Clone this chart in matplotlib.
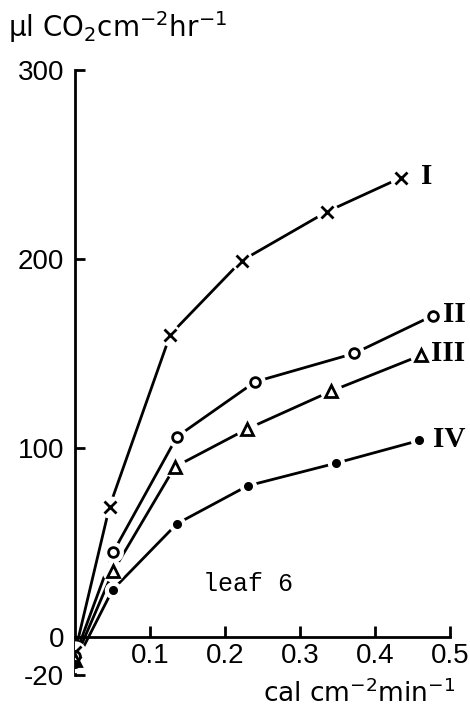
import matplotlib
matplotlib.use("Agg")
import matplotlib.pyplot as plt

plt.rcParams['font.family'] = ['Liberation Sans', 'DejaVu Sans']
plt.rcParams['mathtext.default'] = 'regular'

# light intensity (cal cm-2 min-1) vs CO2 uptake (ul CO2 cm-2 hr-1)
x_I = [0.0, 0.046, 0.127, 0.222, 0.336, 0.435]
y_I = [-8, 69, 160, 199, 225, 243]
x_II = [0.0, 0.051, 0.136, 0.240, 0.372, 0.477]
y_II = [-10, 45, 106, 135, 150, 170]
x_III = [0.0, 0.051, 0.133, 0.229, 0.341, 0.461]
y_III = [-12, 35, 90, 110, 130, 149]
x_IV = [0.0, 0.050, 0.136, 0.230, 0.348, 0.459]
y_IV = [-14, 25, 60, 80, 92, 104]

curve_names = ['I', 'II', 'III', 'IV']
x_ticks = [0.1, 0.2, 0.3, 0.4, 0.5]
y_ticks = [-20, 0, 100, 200, 300]

curves = [(x_I, y_I, 'x', 'k'), (x_II, y_II, 'o', 'white'),
          (x_III, y_III, '^', 'white'), (x_IV, y_IV, 'o', 'k')]
msizes = [8, 7, 8, 4.5]
name_gap = [14, 7, 7, 10]   # points between last marker and its numeral

fig = plt.figure(figsize=(4.7, 7.12), dpi=100)
ax = fig.add_axes([0.1596, 0.052, 0.798, 0.85])

for (xs, ys, m, fc), ms, name, gap in zip(curves, msizes, curve_names, name_gap):
    ax.plot(xs, ys, color='k', lw=2.0, zorder=2, solid_capstyle='round')
    # white halo so the line stops short of each marker
    ax.plot(xs, ys, ls='none', marker='o', ms=ms + 8, mfc='white', mec='none', zorder=3)
    ax.plot(xs, ys, ls='none', marker=m, ms=ms, mfc=fc, mec='k', mew=2.0, zorder=4)
    ax.annotate(name, (xs[-1], ys[-1]), xytext=(gap, 1), textcoords='offset points',
                family='Liberation Serif', fontweight='bold', fontsize=21,
                ha='left', va='center', annotation_clip=False)

ax.text(0.231, 28, 'leaf 6', family='Liberation Mono', fontsize=18, ha='center', va='center')

ax.set_xlim(0, 0.5)
ax.set_ylim(-20, 300)
ax.spines['bottom'].set_position(('data', 0))
ax.spines['top'].set_visible(False)
ax.spines['right'].set_visible(False)
for s in ('left', 'bottom'):
    ax.spines[s].set_linewidth(2.0)

ax.set_xticks(x_ticks)
ax.set_xticklabels([f'{t:.1f}' for t in x_ticks])
ax.set_yticks(y_ticks)
ax.set_yticklabels([f'{t}' for t in y_ticks])
ax.tick_params(axis='x', direction='in', length=8, width=2, labelsize=20, pad=4)
ax.tick_params(axis='y', direction='in', length=7, width=2, labelsize=20, pad=8)

fig.text(8 / 470, 1 - 37 / 712, 'µl CO$_2$cm$^{-2}$hr$^{-1}$', family='DejaVu Sans',
         fontsize=20, va='baseline')
fig.text(455 / 470, 1 - 702 / 712, 'cal cm$^{-2}$min$^{-1}$', family='DejaVu Sans',
         fontsize=19, ha='right', va='baseline')

fig.savefig('out.png', dpi=100)
